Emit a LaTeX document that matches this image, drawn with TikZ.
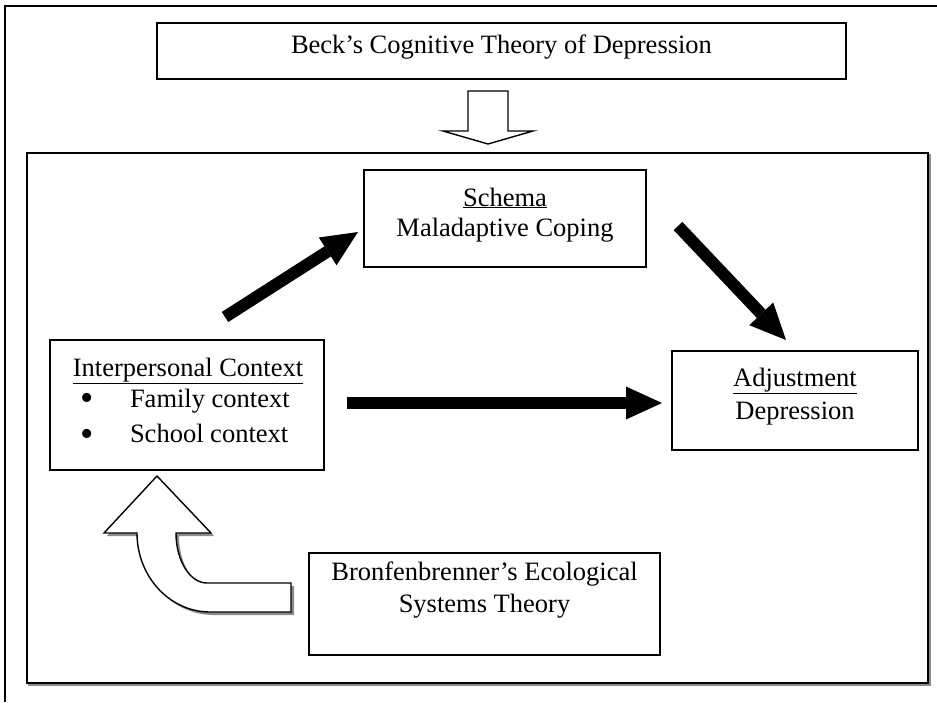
\documentclass[tikz,border=0pt]{standalone}
\usepackage{fontspec}
\setmainfont{Liberation Serif}
\usetikzlibrary{arrows.meta}
\newcommand\fsz{\fontsize{26.5}{31}\selectfont}
\newcommand\bulsz{\fontsize{38}{38}\selectfont}
\begin{document}
\begin{tikzpicture}[x=1pt,y=-1pt,
  box/.style={draw=black, line width=1.6pt, fill=white, inner sep=0pt, outer sep=0pt},
  lbl/.style={font=\fsz, anchor=base, inner sep=0pt, outer sep=0pt},
  lblw/.style={lbl, anchor=base west},
  bul/.style={font=\bulsz, anchor=center, inner sep=0pt, outer sep=0pt},
  bigarrow/.style={line width=12pt, -{Triangle[length=36pt,width=33pt,line width=0pt]}},
  hollow/.style={draw=black, line width=1.4pt, fill=white, line join=miter},
  shade/.style={fill=black!45, draw=none}]
\useasboundingbox (0,0) rectangle (937,702);
\fill[white] (0,0) rectangle (937,702);

% outer frame (top and left edges)
\coordinate (fTR) at (937,6);
\coordinate (fTL) at (5,6);
\coordinate (fBL) at (5,702);
\draw[line width=2pt] (fTR) -- (fTL) -- (fBL);

% inner frame with slight shadow
\node[box, draw=black!45, fill=black!45, minimum width=901pt, minimum height=530pt] (frameshadow) at (479.5,420) {};
\node[box, minimum width=901pt, minimum height=530pt] (frame) at (477.5,418) {};

% Beck box
\node[box, minimum width=689pt, minimum height=56pt] (beck) at (501.5,51) {};
\node[lbl] (beckt) at (501.5,53) {Beck’s Cognitive Theory of Depression};

% hollow down arrow from Beck box into frame
\path[hollow] (468,91) -- (508,91) -- (508,131) -- (533,131) -- (488,144) -- (443,131) -- (468,131) -- cycle;

% Schema box
\node[box, minimum width=282pt, minimum height=97pt] (schema) at (505,218.5) {};
\node[lbl] (schemat1) at (505,206) {\underline{Schema}};
\node[lbl] (schemat2) at (505,236.5) {Maladaptive Coping};

% Interpersonal box
\node[box, minimum width=274pt, minimum height=130pt] (interp) at (187,405) {};
\node[lbl] (interpt1) at (188,376) {\underline{Interpersonal Context}};
\node[bul] (bul1) at (87,402) {•};
\node[lblw] (interpt2) at (130,407.5) {Family context};
\node[bul] (bul2) at (87,437.5) {•};
\node[lblw] (interpt3) at (130,442.5) {School context};

% Adjustment box
\node[box, minimum width=246pt, minimum height=99pt] (adjust) at (795,400.5) {};
\node[lbl] (adjustt1) at (795,386) {\underline{Adjustment}};
\node[lbl] (adjustt2) at (795,419) {Depression};

% Bronfenbrenner box
\node[box, minimum width=351pt, minimum height=102pt] (bronf) at (484.5,604) {};
\node[lbl] (bronft1) at (484.5,580.5) {Bronfenbrenner’s Ecological};
\node[lbl] (bronft2) at (484.5,612.5) {Systems Theory};

% thick black arrows
\coordinate (a1s) at (225,317);
\coordinate (a1e) at (358,232);
\coordinate (a2s) at (678,226);
\coordinate (a2e) at (786,340);
\coordinate (a3s) at (347,403);
\coordinate (a3e) at (662,403);
\draw[bigarrow] (a1s) -- (a1e);
\draw[bigarrow] (a2s) -- (a2e);
\draw[bigarrow] (a3s) -- (a3e);

% curved hollow arrow from Bronfenbrenner box up to Interpersonal box
\begin{scope}[shift={(3,3)}]
\path[shade] (157,476) -- (211,533) -- (176,533)
  .. controls (176,560.6) and (189.9,583) .. (207,583)
  -- (291,583) -- (291,612) -- (210,612)
  .. controls (169.7,612) and (137,576.6) .. (137,533)
  -- (104,533) -- cycle;
\end{scope}
\path[hollow] (157,476) -- (211,533) -- (176,533)
  .. controls (176,560.6) and (189.9,583) .. (207,583)
  -- (291,583) -- (291,612) -- (210,612)
  .. controls (169.7,612) and (137,576.6) .. (137,533)
  -- (104,533) -- cycle;
\end{tikzpicture}
\end{document}
